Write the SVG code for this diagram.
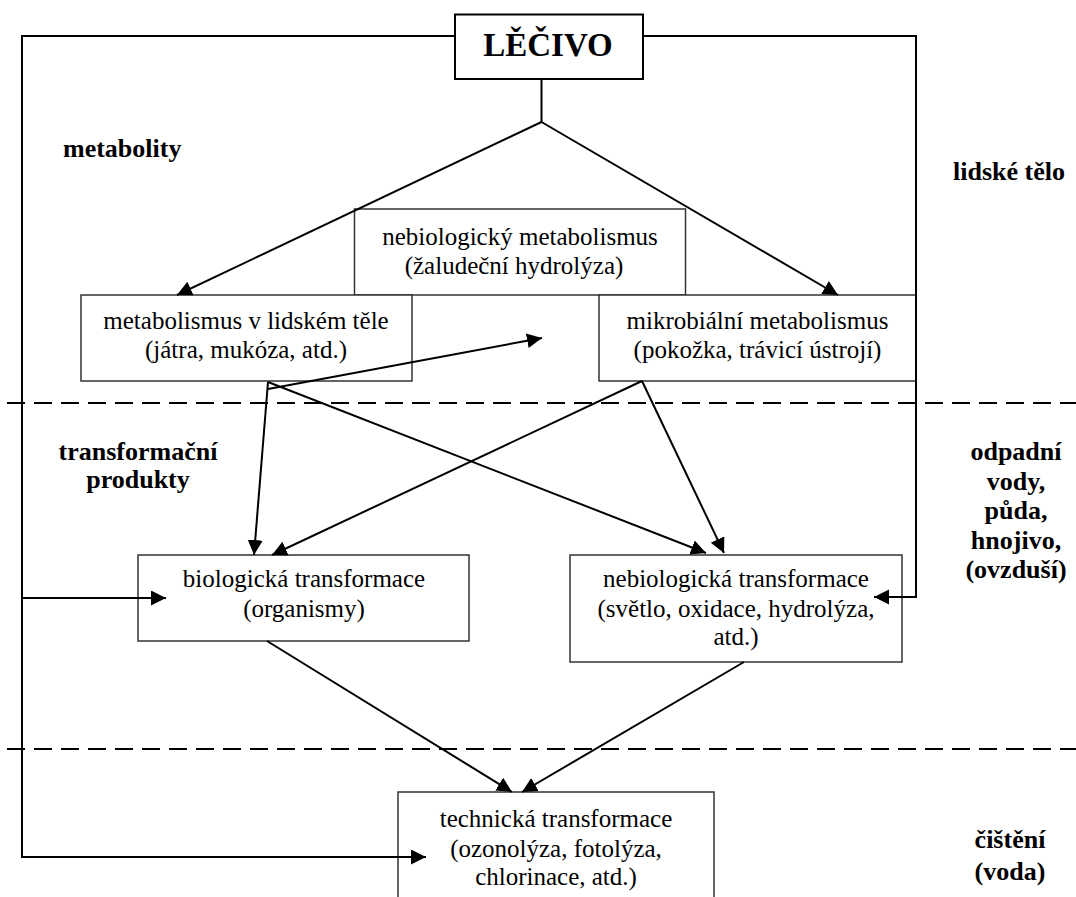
<svg xmlns="http://www.w3.org/2000/svg" width="1076" height="897" viewBox="0 0 1076 897">
<style>
.box{fill:#fff;stroke:#333;stroke-width:1.5}
.main{fill:#fff;stroke:#000;stroke-width:2}
.t{font-family:"Liberation Serif","Times New Roman",serif;font-size:25px;fill:#000;text-anchor:middle}
.b{font-family:"Liberation Serif","Times New Roman",serif;font-size:26px;font-weight:bold;fill:#000}
.c{fill:none;stroke:#000;stroke-width:2}
.d{fill:none;stroke:#000;stroke-width:2;stroke-dasharray:18 9}
</style>
<defs>
<marker id="ah" markerUnits="userSpaceOnUse" markerWidth="16" markerHeight="16" refX="15" refY="7.5" orient="auto">
<path d="M0,0 L15,7.5 L0,15 z" fill="#000"/>
</marker>
</defs>
<rect width="1076" height="897" fill="#fff"/>
<g id="dividers">
<line class="d" x1="7" y1="403" x2="1076" y2="403"/>
<line class="d" x1="7" y1="749" x2="1076" y2="749"/>
</g>
<g id="n-nebio-met">
<rect class="box" x="354.5" y="209" width="331" height="86"/>
<text class="t" x="520" y="245">nebiologický metabolismus</text>
<text class="t" x="514" y="274">(žaludeční hydrolýza)</text>
</g>
<g id="n-metab">
<rect class="box" x="81" y="295" width="331" height="86"/>
<text class="t" x="246" y="329">metabolismus v lidském těle</text>
<text class="t" x="246" y="358">(játra, mukóza, atd.)</text>
</g>
<g id="n-mikro">
<rect class="box" x="599" y="295" width="317" height="86"/>
<text class="t" x="757.5" y="329">mikrobiální metabolismus</text>
<text class="t" x="757.5" y="358">(pokožka, trávicí ústrojí)</text>
</g>
<g id="n-bio">
<rect class="box" x="138" y="555" width="331" height="86"/>
<text class="t" x="304" y="587">biologická transformace</text>
<text class="t" x="304" y="617">(organismy)</text>
</g>
<g id="n-nebio-tr">
<rect class="box" x="570" y="555" width="332" height="107"/>
<text class="t" x="736" y="587">nebiologická transformace</text>
<text class="t" x="736" y="617">(světlo, oxidace, hydrolýza,</text>
<text class="t" x="736" y="645">atd.)</text>
</g>
<g id="n-tech">
<rect class="box" x="398" y="792" width="316" height="120"/>
<text class="t" x="556" y="827">technická transformace</text>
<text class="t" x="556" y="857">(ozonolýza, fotolýza,</text>
<text class="t" x="556" y="885">chlorinace, atd.)</text>
</g>
<g id="connectors">
<path class="c" d="M541.5,79 V122"/>
<path class="c" d="M541.5,122 L177,295" marker-end="url(#ah)"/>
<path class="c" d="M541.5,122 L838,295" marker-end="url(#ah)"/>
<path class="c" d="M268,382 L254,555" marker-end="url(#ah)"/>
<path class="c" d="M268,389 L542,338" marker-end="url(#ah)"/>
<path class="c" d="M268,382 L706,553" marker-end="url(#ah)"/>
<path class="c" d="M642,381 L272,555" marker-end="url(#ah)"/>
<path class="c" d="M642,381 L724,553" marker-end="url(#ah)"/>
<path class="c" d="M267,641 L512,792" marker-end="url(#ah)"/>
<path class="c" d="M744,662 L522,792" marker-end="url(#ah)"/>
<path class="c" d="M455,36 H22 V857 H426" marker-end="url(#ah)"/>
<path class="c" d="M22,598 H166" marker-end="url(#ah)"/>
<path class="c" d="M643,36 H916 V597 H874" marker-end="url(#ah)"/>
</g>
<g id="n-lecivo">
<rect class="main" x="455" y="14.5" width="188" height="64.5"/>
<text x="548" y="56" text-anchor="middle" font-family="'Liberation Serif','Times New Roman',serif" font-size="33" font-weight="bold">LĚČIVO</text>
</g>
<g id="labels">
<text class="b" x="63" y="157">metabolity</text>
<text class="b" x="953" y="180">lidské tělo</text>
<text class="b" x="138" y="460" text-anchor="middle">transformační</text>
<text class="b" x="138" y="488" text-anchor="middle">produkty</text>
<text class="b" x="1016" y="460" text-anchor="middle">odpadní</text>
<text class="b" x="1016" y="489.5" text-anchor="middle">vody,</text>
<text class="b" x="1016" y="519" text-anchor="middle">půda,</text>
<text class="b" x="1016" y="548.5" text-anchor="middle">hnojivo,</text>
<text class="b" x="1016" y="578" text-anchor="middle">(ovzduší)</text>
<text class="b" x="1010" y="848" text-anchor="middle">čištění</text>
<text class="b" x="1010" y="880" text-anchor="middle">(voda)</text>
</g>
</svg>
